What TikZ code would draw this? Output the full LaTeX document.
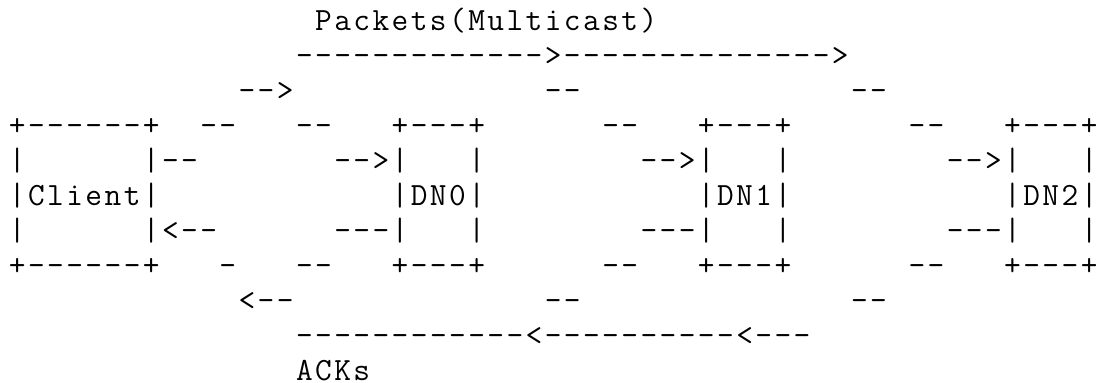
\documentclass[tikz,border=0pt]{standalone}
\usepackage{fontspec}
\newlength\cw
\setlength\cw{9.57pt}
\makeatletter
% set every character in a cell of fixed width, like a typewriter grid
\def\mono#1{\mono@#1\relax}
\def\mono@#1{\ifx#1\relax\else\makebox[\cw][c]{#1}\expandafter\mono@\fi}
\makeatother
\tikzset{
  seg/.style={anchor=base west, inner sep=0pt, outer sep=0pt,
    font=\ttfamily\fontsize{16.2}{17.5}\selectfont, text=black}
}
% #1 name, #2 row (1..11), #3 column, #4 text
\newcommand\seg[4]{\node[seg] (#1) at ({7.7+19.14*#3},{31+35*(#2-1)}) {\mono{#4}};}
\begin{document}
\begin{tikzpicture}[x=0.5pt,y=-0.5pt]
\useasboundingbox (0,0) rectangle (1096,383);
% row 1
\seg{title}{1}{16}{Packets(Multicast)}
% row 2
\seg{mcast}{2}{15}{------------->-------------->}
% row 3
\seg{ua}{3}{12}{-->}
\seg{ub}{3}{28}{--}
\seg{uc}{3}{44}{--}
% row 4
\seg{clTop}{4}{0}{+------+}
\seg{fa}{4}{10}{--}
\seg{fb}{4}{15}{--}
\seg{dnATop}{4}{20}{+---+}
\seg{fc}{4}{31}{--}
\seg{dnBTop}{4}{36}{+---+}
\seg{fd}{4}{47}{--}
\seg{dnCTop}{4}{52}{+---+}
% row 5
\seg{clL5}{5}{0}{|}
\seg{clR5}{5}{7}{|--}
\seg{inA}{5}{17}{-->|}
\seg{dnAR5}{5}{24}{|}
\seg{inB}{5}{33}{-->|}
\seg{dnBR5}{5}{40}{|}
\seg{inC}{5}{49}{-->|}
\seg{dnCR5}{5}{56}{|}
% row 6
\seg{client}{6}{0}{|Client|}
\seg{dnA}{6}{20}{|DN0|}
\seg{dnB}{6}{36}{|DN1|}
\seg{dnC}{6}{52}{|DN2|}
% row 7
\seg{clL7}{7}{0}{|}
\seg{clR7}{7}{7}{|<--}
\seg{outA}{7}{17}{---|}
\seg{dnAR7}{7}{24}{|}
\seg{outB}{7}{33}{---|}
\seg{dnBR7}{7}{40}{|}
\seg{outC}{7}{49}{---|}
\seg{dnCR7}{7}{56}{|}
% row 8
\seg{clBot}{8}{0}{+------+}
\seg{ga}{8}{11}{-}
\seg{gb}{8}{15}{--}
\seg{dnABot}{8}{20}{+---+}
\seg{gc}{8}{31}{--}
\seg{dnBBot}{8}{36}{+---+}
\seg{gd}{8}{47}{--}
\seg{dnCBot}{8}{52}{+---+}
% row 9
\seg{la}{9}{12}{<--}
\seg{lb}{9}{28}{--}
\seg{lc}{9}{44}{--}
% row 10
\seg{acks}{10}{15}{------------<----------<---}
% row 11
\seg{ackl}{11}{15}{ACKs}
\end{tikzpicture}
\end{document}
